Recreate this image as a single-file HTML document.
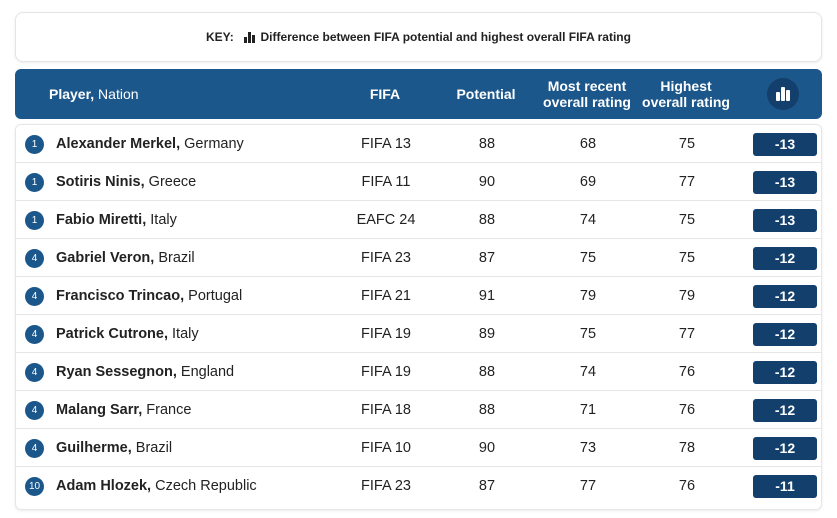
<!DOCTYPE html>
<html><head><meta charset="utf-8">
<style>
*{margin:0;padding:0;box-sizing:border-box}
body{width:837px;height:518px;background:#fff;font-family:"Liberation Sans",sans-serif;position:relative;overflow:hidden}
.key{position:absolute;left:15px;top:12px;width:807px;height:50px;border:1px solid #e4e4e4;border-radius:8px;box-shadow:0 1px 3px rgba(0,0,0,.08);font-size:12px;font-weight:bold;color:#222;display:flex;align-items:center;justify-content:center}
.hdr{position:absolute;left:15px;top:69px;width:807px;height:50px;background:#1c578c;border-radius:6px;color:#fff;font-weight:bold;font-size:14px}
.hdr div{position:absolute;text-align:center;line-height:16px}
.tbl{position:absolute;left:15px;top:124px;width:807px;height:386px;border:1px solid #e6e6e6;border-radius:6px;box-shadow:0 1px 3px rgba(0,0,0,.08)}
.row{position:absolute;left:0;width:805px;height:38px;border-bottom:1px solid #e6e6e6;font-size:14.5px;color:#222}
.row div{position:absolute;top:0;line-height:38px}
.rk{left:9px!important;top:10px!important;width:19px;height:19px;border-radius:50%;background:#1c578c;color:#fff;font-size:10px;line-height:19px!important;text-align:center}
.c{text-align:center;width:80px}
.bd{left:737px;top:8px!important;width:64px;height:23px;background:#123f6b;border-radius:3px;color:#fff;font-weight:bold;text-align:center;line-height:23px!important;font-size:14px}
</style></head><body>
<div class="key">KEY:&nbsp;&nbsp;<svg width="12" height="11" viewBox="0 0 12 11" style="margin:0 4px"><rect x="0" y="5" width="3" height="6" fill="#222"/><rect x="4" y="0" width="3" height="11" fill="#222"/><rect x="8" y="3" width="3" height="8" fill="#222"/></svg>Difference between FIFA potential and highest overall FIFA rating</div>
<div class="hdr">
<div style="left:34px;top:17px"><b>Player,</b> <span style="font-weight:normal">Nation</span></div>
<div style="left:330px;top:17px;width:80px">FIFA</div>
<div style="left:431px;top:17px;width:80px">Potential</div>
<div style="left:522px;top:9px;width:100px">Most recent<br>overall rating</div>
<div style="left:621px;top:9px;width:100px">Highest<br>overall rating</div>
<div style="left:752px;top:9px;width:32px;height:32px;border-radius:50%;background:#123f6b"><svg width="32" height="32" viewBox="0 0 32 32"><rect x="9" y="14" width="4" height="9" rx="1" fill="#fff"/><rect x="14" y="9" width="4" height="14" rx="1" fill="#fff"/><rect x="19" y="12" width="4" height="11" rx="1" fill="#fff"/></svg></div>
</div>
<div class="tbl" id="tbl"></div>
<script>
const ranks=[1,1,1,4,4,4,4,4,4,10];
const players=["Alexander Merkel","Sotiris Ninis","Fabio Miretti","Gabriel Veron","Francisco Trincao","Patrick Cutrone","Ryan Sessegnon","Malang Sarr","Guilherme","Adam Hlozek"];
const nations=["Germany","Greece","Italy","Brazil","Portugal","Italy","England","France","Brazil","Czech Republic"];
const fifas=["FIFA 13","FIFA 11","EAFC 24","FIFA 23","FIFA 21","FIFA 19","FIFA 19","FIFA 18","FIFA 10","FIFA 23"];
const potentials=[88,90,88,87,91,89,88,88,90,87];
const recents=[68,69,74,75,79,75,74,71,73,77];
const highests=[75,77,75,75,79,77,76,76,78,76];
const diffs=[-13,-13,-13,-12,-12,-12,-12,-12,-12,-11];
const t=document.getElementById('tbl');
players.forEach((p,i)=>{
 const r=document.createElement('div');r.className='row';r.style.top=(i*38)+'px';
 if(i==players.length-1)r.style.borderBottom='none';
 
 
 r.innerHTML=`<div class="rk">${ranks[i]}</div><div style="left:40px"><b>${p},</b> ${nations[i]}</div><div class="c" style="left:330px">${fifas[i]}</div><div class="c" style="left:431px">${potentials[i]}</div><div class="c" style="left:532px">${recents[i]}</div><div class="c" style="left:631px">${highests[i]}</div><div class="bd">${diffs[i]}</div>`;
 t.appendChild(r);
});
</script>
</body></html>
